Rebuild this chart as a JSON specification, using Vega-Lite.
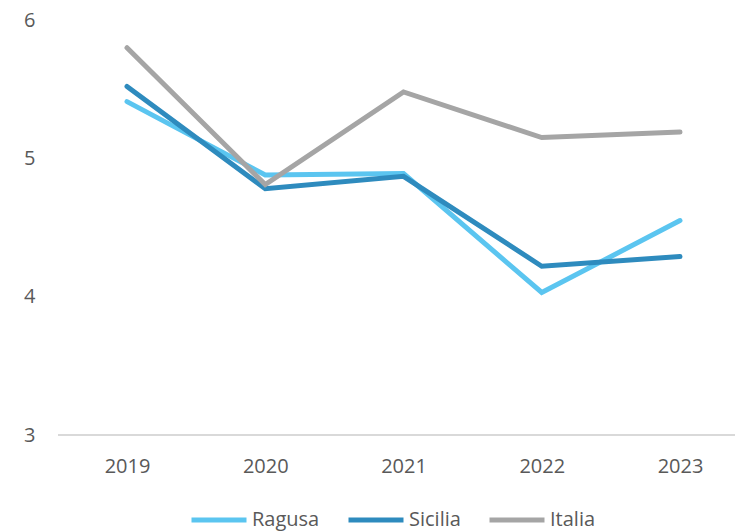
{
  "$schema": "https://vega.github.io/schema/vega-lite/v6.json",
  "autosize": "none",
  "width": 677,
  "height": 415,
  "padding": {"left": 58, "top": 20, "right": 0, "bottom": 97},
  "background": "white",
  "config": {
    "font": "Open Sans",
    "view": {"stroke": null},
    "axis": {"labelFont": "Open Sans", "labelFontSize": 20, "labelColor": "#595959"},
    "legend": {"labelFont": "Open Sans", "labelFontSize": 20, "labelColor": "#595959"}
  },
  "data": {
    "values": [
      {"anno": "2019", "serie": "Ragusa", "valore": 5.41},
      {"anno": "2020", "serie": "Ragusa", "valore": 4.88},
      {"anno": "2021", "serie": "Ragusa", "valore": 4.89},
      {"anno": "2022", "serie": "Ragusa", "valore": 4.03},
      {"anno": "2023", "serie": "Ragusa", "valore": 4.55},
      {"anno": "2019", "serie": "Sicilia", "valore": 5.52},
      {"anno": "2020", "serie": "Sicilia", "valore": 4.78},
      {"anno": "2021", "serie": "Sicilia", "valore": 4.87},
      {"anno": "2022", "serie": "Sicilia", "valore": 4.22},
      {"anno": "2023", "serie": "Sicilia", "valore": 4.29},
      {"anno": "2019", "serie": "Italia", "valore": 5.8},
      {"anno": "2020", "serie": "Italia", "valore": 4.81},
      {"anno": "2021", "serie": "Italia", "valore": 5.48},
      {"anno": "2022", "serie": "Italia", "valore": 5.15},
      {"anno": "2023", "serie": "Italia", "valore": 5.19}
    ]
  },
  "layer": [
    {
      "mark": {"type": "rule", "color": "#d9d9d9", "strokeWidth": 1.5},
      "encoding": {"y": {"datum": 3}}
    },
    {
      "mark": {"type": "line", "strokeWidth": 5, "strokeCap": "round", "strokeJoin": "miter"},
      "encoding": {
        "x": {
          "field": "anno", "type": "ordinal",
          "scale": {"type": "point", "padding": 0, "range": [69, 622]},
          "axis": {"title": null, "labelAngle": 0, "ticks": false, "domain": false, "labelPadding": 21, "grid": false}
        },
        "y": {
          "field": "valore", "type": "quantitative",
          "scale": {"domain": [3, 6], "nice": false, "zero": false},
          "axis": {"title": null, "values": [3, 4, 5, 6], "ticks": false, "domain": false, "grid": false, "labelPadding": 23, "format": "d"}
        },
        "color": {
          "field": "serie", "type": "nominal",
          "scale": {"domain": ["Ragusa", "Sicilia", "Italia"], "range": ["#5BC5F0", "#2E8BBE", "#A5A5A5"]},
          "sort": ["Ragusa", "Sicilia", "Italia"],
          "legend": {
            "title": null, "orient": "none", "direction": "horizontal",
            "legendX": 131, "legendY": 470, "padding": 0,
            "symbolType": "stroke", "symbolSize": 3025, "symbolStrokeWidth": 5,
            "labelOffset": 3, "columnPadding": 18
          }
        }
      }
    }
  ]
}
